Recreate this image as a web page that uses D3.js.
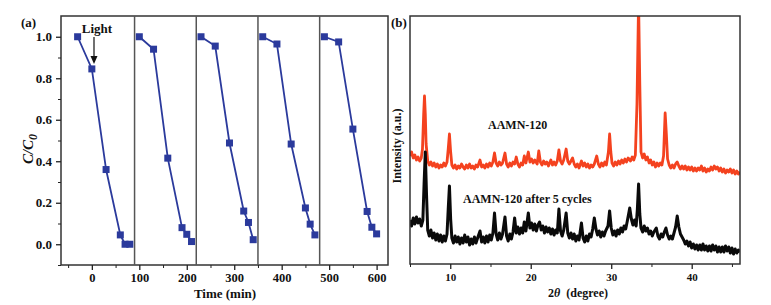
<!DOCTYPE html>
<html>
<head>
<meta charset="utf-8">
<script src="https://cdn.jsdelivr.net/npm/d3@7"></script>
<style>
  body { margin: 0; background: #fff; }
  svg text { font-family: "Liberation Serif", "DejaVu Serif", serif; font-weight: bold; fill: #111; }
  .axis path, .axis line { stroke: #222; }
</style>
</head>
<body>
<div id="chart"></div>
<script>
// ---- panel (a): photocatalytic cycles ----
const cycleTimes = [
  [-30, 0, 30, 60, 70, 80],
  [100, 130, 160, 190, 200, 210],
  [230, 260, 290, 320, 330, 340],
  [360, 390, 420, 450, 460, 470],
  [490, 520, 550, 580, 590, 600]
];
const cycleValues = [
  [1.0, 0.845, 0.36, 0.045, 0.0, 0.0],
  [1.0, 0.94, 0.415, 0.08, 0.048, 0.013],
  [1.0, 0.955, 0.488, 0.16, 0.105, 0.022],
  [1.0, 0.965, 0.483, 0.175, 0.097, 0.045],
  [1.0, 0.975, 0.555, 0.158, 0.082, 0.05]
];
const cycleBreaks = [90, 220, 350, 480];
const timeTicks = [0, 100, 200, 300, 400, 500, 600];
const ratioTicks = [0.0, 0.2, 0.4, 0.6, 0.8, 1.0];

// ---- panel (b): XRD patterns, [2theta, intensity] ----
const freshPattern = [
  [5.0,108],[5.2,112],[5.4,106],[5.6,109],[5.8,104],[6.0,107],[6.2,103],[6.4,106],[6.55,115],[6.7,150],
  [6.8,168],[6.9,150],[7.0,120],[7.2,103],[7.4,99],[7.6,102],[7.8,98],[8.0,101],[8.2,97],[8.4,100],
  [8.6,96],[8.8,99],[9.0,97],[9.2,101],[9.4,98],[9.6,102],[9.75,115],[9.9,130],[10.05,112],[10.2,99],
  [10.4,96],[10.6,99],[10.8,95],[11.0,98],[11.2,96],[11.4,100],[11.6,97],[11.8,95],[12.0,99],[12.2,96],
  [12.4,100],[12.6,96],[12.8,98],[13.0,95],[13.2,99],[13.4,97],[13.7,104],[13.9,97],[14.1,99],[14.3,96],
  [14.5,100],[14.7,97],[14.9,101],[15.1,98],[15.3,102],[15.5,111],[15.7,101],[15.9,98],[16.1,102],[16.3,99],
  [16.5,101],[16.8,111],[17.0,100],[17.2,97],[17.4,101],[17.6,98],[17.8,102],[18.0,100],[18.2,107],[18.4,100],
  [18.6,97],[18.8,101],[19.0,99],[19.2,108],[19.4,101],[19.7,112],[19.9,102],[20.1,105],[20.3,101],[20.5,104],
  [20.8,100],[21.0,113],[21.2,102],[21.4,99],[21.6,103],[21.8,100],[22.0,102],[22.2,98],[22.5,104],[22.7,99],
  [22.9,102],[23.1,99],[23.3,103],[23.5,114],[23.7,103],[23.9,100],[24.1,104],[24.4,115],[24.6,103],[24.8,100],
  [25.0,103],[25.2,106],[25.4,100],[25.6,97],[25.8,100],[26.0,96],[26.3,103],[26.5,98],[26.7,101],[26.9,97],
  [27.1,100],[27.3,96],[27.5,99],[27.7,97],[27.9,100],[28.2,108],[28.4,100],[28.6,97],[28.8,101],[29.0,98],
  [29.2,102],[29.4,99],[29.65,112],[29.8,130],[29.95,112],[30.1,101],[30.3,98],[30.5,102],[30.7,99],[30.9,103],
  [31.1,100],[31.3,104],[31.5,101],[31.7,105],[31.9,102],[32.1,106],[32.4,103],[32.6,107],[32.8,104],[33.0,109],
  [33.2,160],[33.4,262],[33.55,180],[33.7,112],[33.9,106],[34.1,110],[34.3,104],[34.5,107],[34.7,101],[34.9,104],
  [35.1,99],[35.3,102],[35.5,97],[35.7,101],[35.9,98],[36.1,101],[36.3,99],[36.5,108],[36.7,151],[36.85,130],
  [37.0,105],[37.2,99],[37.4,96],[37.6,99],[37.8,96],[38.0,100],[38.2,102],[38.4,98],[38.6,95],[38.8,98],
  [39.0,95],[39.2,98],[39.4,94],[39.6,97],[39.8,94],[40.0,97],[40.2,93],[40.4,96],[40.6,93],[40.8,96],
  [41.0,94],[41.2,98],[41.4,93],[41.6,96],[41.8,92],[42.0,95],[42.2,93],[42.4,97],[42.6,94],[42.8,98],
  [43.0,95],[43.2,97],[43.4,93],[43.6,96],[43.8,92],[44.0,95],[44.2,91],[44.4,94],[44.6,92],[44.8,95],
  [45.0,91],[45.2,94],[45.4,90],[45.6,93],[45.8,90],[46.0,92]
];
const cycledPattern = [
  [5.0,44],[5.2,38],[5.4,46],[5.6,40],[5.8,47],[6.0,41],[6.2,45],[6.4,38],[6.6,44],[6.75,80],
  [6.9,112],[7.05,70],[7.2,34],[7.4,28],[7.6,34],[7.8,26],[8.0,31],[8.2,24],[8.4,30],[8.6,23],
  [8.8,29],[9.0,22],[9.2,28],[9.4,23],[9.6,30],[9.75,55],[9.9,78],[10.05,45],[10.2,26],[10.4,21],
  [10.6,28],[10.8,22],[11.0,27],[11.2,20],[11.4,26],[11.6,21],[11.8,29],[12.0,22],[12.2,27],[12.4,19],
  [12.6,25],[12.8,20],[13.0,27],[13.2,21],[13.4,26],[13.7,33],[13.9,22],[14.1,27],[14.3,21],[14.5,28],
  [14.7,22],[14.9,29],[15.1,24],[15.3,31],[15.5,51],[15.7,30],[15.9,24],[16.1,31],[16.3,25],[16.5,30],
  [16.8,47],[17.0,28],[17.2,23],[17.4,30],[17.6,25],[17.8,32],[18.0,46],[18.2,31],[18.4,37],[18.6,30],
  [18.8,36],[19.0,31],[19.2,42],[19.4,33],[19.7,51],[19.9,36],[20.1,41],[20.3,34],[20.5,40],[20.7,33],
  [20.9,39],[21.1,42],[21.3,34],[21.5,38],[21.7,31],[21.9,37],[22.1,32],[22.3,36],[22.5,30],[22.7,35],
  [22.9,29],[23.1,34],[23.3,31],[23.5,55],[23.7,33],[23.9,28],[24.1,34],[24.4,51],[24.6,31],[24.8,26],
  [25.0,31],[25.2,25],[25.4,30],[25.6,23],[25.8,28],[26.0,24],[26.3,41],[26.5,26],[26.7,22],[26.9,28],
  [27.1,23],[27.3,30],[27.5,27],[27.7,35],[27.9,46],[28.1,35],[28.3,29],[28.5,33],[28.7,27],[28.9,32],
  [29.1,28],[29.3,33],[29.6,38],[29.8,53],[30.0,36],[30.2,29],[30.4,33],[30.6,28],[30.8,34],[31.0,30],
  [31.2,36],[31.4,32],[31.6,38],[31.8,35],[32.0,43],[32.3,56],[32.5,45],[32.7,39],[32.9,44],[33.1,38],
  [33.25,55],[33.4,80],[33.55,50],[33.7,36],[33.9,32],[34.1,38],[34.3,33],[34.5,36],[34.7,30],[34.9,33],
  [35.1,28],[35.3,32],[35.6,36],[35.8,28],[36.0,25],[36.2,30],[36.4,27],[36.6,32],[36.8,36],[37.0,29],
  [37.2,25],[37.4,28],[37.6,25],[37.8,31],[38.0,37],[38.2,48],[38.4,37],[38.6,30],[38.8,27],[39.0,24],
  [39.2,20],[39.4,23],[39.6,18],[39.8,22],[40.0,16],[40.2,20],[40.4,15],[40.6,19],[40.8,14],[41.0,19],
  [41.2,14],[41.4,20],[41.6,14],[41.8,18],[42.0,13],[42.2,18],[42.4,13],[42.6,19],[42.8,14],[43.0,18],
  [43.2,12],[43.4,17],[43.6,12],[43.8,17],[44.0,12],[44.2,18],[44.4,13],[44.6,17],[44.8,11],[45.0,16],
  [45.2,10],[45.4,15],[45.6,11],[45.8,14],[46.0,12]
];
const angleTicks = [10, 20, 30, 40];

const svg = d3.select("#chart").append("svg")
  .attr("width", 771)
  .attr("height", 305);

// ===== panel (a) =====
const xA = d3.scaleLinear().domain([-65, 624]).range([61, 388]);
const yA = d3.scaleLinear().domain([-0.1, 1.1]).range([265, 16]);

const gA = svg.append("g");

// frame
gA.append("rect")
  .attr("x", xA.range()[0]).attr("y", yA.range()[1])
  .attr("width", xA.range()[1] - xA.range()[0])
  .attr("height", yA.range()[0] - yA.range()[1])
  .attr("fill", "none").attr("stroke", "#333").attr("stroke-width", 1.5);

// minor ticks
gA.append("g").attr("class", "axis")
  .attr("transform", "translate(0," + yA.range()[0] + ")")
  .call(d3.axisBottom(xA).tickValues(d3.range(-50, 601, 100)).tickSize(3).tickFormat(""))
  .call(g => g.select(".domain").remove());
gA.append("g").attr("class", "axis")
  .attr("transform", "translate(" + xA.range()[0] + ",0)")
  .call(d3.axisLeft(yA).tickValues([-0.1, 0.1, 0.3, 0.5, 0.7, 0.9]).tickSize(3).tickFormat(""))
  .call(g => g.select(".domain").remove());

// major ticks
const axA = gA.append("g").attr("class", "axis")
  .attr("transform", "translate(0," + yA.range()[0] + ")")
  .call(d3.axisBottom(xA).tickValues(timeTicks).tickSize(5).tickPadding(3).tickFormat(d3.format("d")))
  .call(g => g.select(".domain").remove());
axA.selectAll("text").style("font-size", "12.5px");
axA.selectAll("line").attr("stroke-width", 1.3);

const ayA = gA.append("g").attr("class", "axis")
  .attr("transform", "translate(" + xA.range()[0] + ",0)")
  .call(d3.axisLeft(yA).tickValues(ratioTicks).tickSize(5).tickPadding(4).tickFormat(d3.format(".1f")))
  .call(g => g.select(".domain").remove());
ayA.selectAll("text").style("font-size", "13px");
ayA.selectAll("line").attr("stroke-width", 1.3);

// cycle separators
gA.selectAll("line.sep").data(cycleBreaks).enter().append("line")
  .attr("class", "sep")
  .attr("x1", d => xA(d)).attr("x2", d => xA(d))
  .attr("y1", yA.range()[1]).attr("y2", yA.range()[0])
  .attr("stroke", "#555").attr("stroke-width", 1.5);

const blue = "#2b3a9c";
const lineA = d3.line().x(d => xA(d[0])).y(d => yA(d[1]));
cycleTimes.forEach(function (times, i) {
  const pts = times.map((t, j) => [t, cycleValues[i][j]]);
  gA.append("path")
    .attr("d", lineA(pts))
    .attr("fill", "none").attr("stroke", blue).attr("stroke-width", 1.8);
  gA.selectAll(null).data(pts).enter().append("rect")
    .attr("x", d => xA(d[0]) - 3.5).attr("y", d => yA(d[1]) - 3.5)
    .attr("width", 7).attr("height", 7)
    .attr("fill", blue);
});

// Light annotation
gA.append("text").attr("x", 97).attr("y", 33)
  .attr("text-anchor", "middle").style("font-size", "13px").text("Light");
gA.append("line").attr("x1", 94).attr("x2", 94).attr("y1", 37).attr("y2", 58)
  .attr("stroke", "#111").attr("stroke-width", 1.2);
gA.append("path").attr("d", "M90.5,56 L97.5,56 L94,64 Z").attr("fill", "#111");

gA.append("text").attr("x", 225).attr("y", 298)
  .attr("text-anchor", "middle").style("font-size", "13px").text("Time (min)");
const yLabA = gA.append("text")
  .attr("transform", "translate(33,149) rotate(-90)")
  .attr("text-anchor", "middle").style("font-size", "15px").style("font-style", "italic");
yLabA.append("tspan").text("C/C");
yLabA.append("tspan").attr("dy", 4).style("font-size", "12px").text("0");

gA.append("text").attr("x", 21).attr("y", 27).style("font-size", "13px").text("(a)");

// ===== panel (b) =====
const xB = d3.scaleLinear().domain([5, 46]).range([410, 740]);
const yB = d3.scaleLinear().domain([0, 248]).range([264, 16]);

const gB = svg.append("g");

svg.append("defs").append("clipPath").attr("id", "clipB")
  .append("rect")
  .attr("x", 410).attr("y", 16).attr("width", 330).attr("height", 248);

const lineB = d3.line().x(d => xB(d[0])).y(d => yB(d[1]));
gB.append("path").attr("clip-path", "url(#clipB)")
  .attr("d", lineB(freshPattern))
  .attr("fill", "none").attr("stroke", "#f4421f").attr("stroke-width", 2.8)
  .attr("stroke-linejoin", "round");
gB.append("path").attr("clip-path", "url(#clipB)")
  .attr("d", lineB(cycledPattern))
  .attr("fill", "none").attr("stroke", "#0a0a0a").attr("stroke-width", 3)
  .attr("stroke-linejoin", "round");

gB.append("rect")
  .attr("x", 410).attr("y", 16).attr("width", 330).attr("height", 248)
  .attr("fill", "none").attr("stroke", "#333").attr("stroke-width", 1.5);

gB.append("g").attr("class", "axis")
  .attr("transform", "translate(0,264)")
  .call(d3.axisBottom(xB).tickValues([5, 15, 25, 35, 45]).tickSize(3).tickFormat(""))
  .call(g => g.select(".domain").remove());
const axB = gB.append("g").attr("class", "axis")
  .attr("transform", "translate(0,264)")
  .call(d3.axisBottom(xB).tickValues(angleTicks).tickSize(5).tickPadding(4).tickFormat(d3.format("d")))
  .call(g => g.select(".domain").remove());
axB.selectAll("text").style("font-size", "11px");
axB.selectAll("line").attr("stroke-width", 1.3);

const xLabB = gB.append("text").attr("x", 578).attr("y", 297)
  .attr("text-anchor", "middle").style("font-size", "12px");
xLabB.append("tspan").text("2");
xLabB.append("tspan").style("font-style", "italic").text("\u03b8");
xLabB.append("tspan").text("\u00a0\u00a0(degree)");

gB.append("text")
  .attr("transform", "translate(401,146) rotate(-90)")
  .attr("text-anchor", "middle").style("font-size", "12px").text("Intensity (a.u.)");

gB.append("text").attr("x", 488).attr("y", 129).style("font-size", "12px").text("AAMN-120");
gB.append("text").attr("x", 463).attr("y", 203).style("font-size", "12px").text("AAMN-120 after 5 cycles");

gB.append("text").attr("x", 391).attr("y", 27).style("font-size", "13px").text("(b)");
</script>
</body>
</html>
